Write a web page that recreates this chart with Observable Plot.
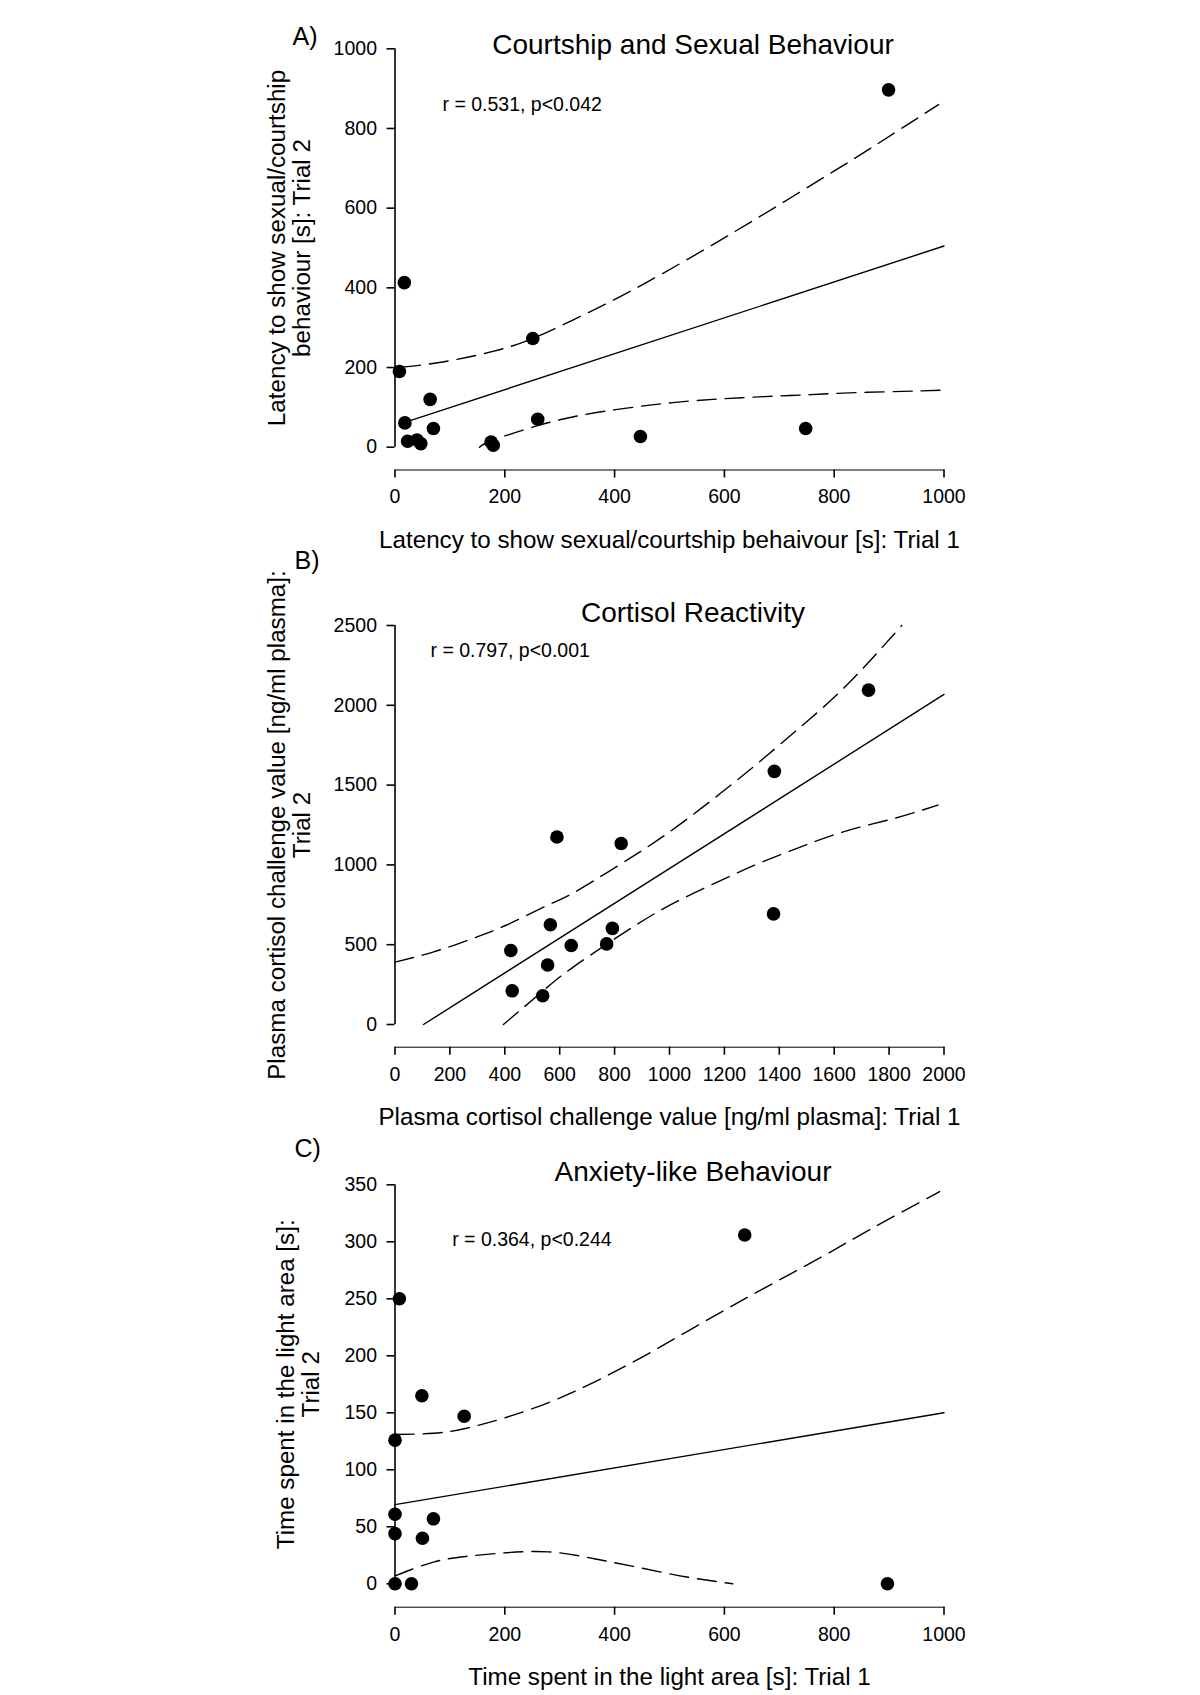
<!DOCTYPE html>
<html><head><meta charset="utf-8">
<script src="https://cdn.jsdelivr.net/npm/d3@7"></script>
<script src="https://cdn.jsdelivr.net/npm/@observablehq/plot@0.6"></script>
<style>
html,body{margin:0;padding:0;background:#fff;}
#wrap{position:relative;width:1200px;height:1695px;background:#fff;overflow:hidden;}
#wrap svg{position:absolute;left:0;overflow:visible;background:transparent;}
#wrap svg g[aria-label*="axis"]{stroke-width:1.6px;}
#wrap svg g[aria-label*="axis"] text{font-size:19.5px;}
</style></head><body><div id="wrap"></div>
<script>
// ---------- Panel A data ----------
const aLabel = "A)";
const aTitle = "Courtship and Sexual Behaviour";
const aStat = "r = 0.531, p<0.042";
const aXTitle = "Latency to show sexual/courtship behaivour [s]: Trial 1";
const aYTitle = ["Latency to show sexual/courtship", "behaviour [s]: Trial 2"];
const aXTicks = [0, 200, 400, 600, 800, 1000];
const aYTicks = [0, 200, 400, 600, 800, 1000];
const aTrial1 = [899, 17, 251, 8, 64, 18, 70, 23, 40, 47, 175, 179, 260, 447, 748];
const aTrial2 = [897, 413, 273, 190, 120, 61, 47, 15, 18, 9, 13, 5, 70, 27, 47];
const aFitX = [8, 1000];
const aFitY = [58, 505];
const aUpperX = [12, 87, 180, 251, 322, 389, 456, 531, 615, 698, 782, 866, 990];
const aUpperY = [201, 214, 241, 273, 318, 363, 412, 470, 538, 607, 678, 750, 860];
const aLowerX = [154, 179, 260, 338, 422, 506, 590, 673, 757, 841, 925, 996];
const aLowerY = [0, 18, 54, 80, 98, 112, 121, 127, 132, 137, 140, 143];

// ---------- Panel B data ----------
const bLabel = "B)";
const bTitle = "Cortisol Reactivity";
const bStat = "r = 0.797, p<0.001";
const bXTitle = "Plasma cortisol challenge value [ng/ml plasma]: Trial 1";
const bYTitle = ["Plasma cortisol challenge value [ng/ml plasma]:", "Trial 2"];
const bXTicks = [0, 200, 400, 600, 800, 1000, 1200, 1400, 1600, 1800, 2000];
const bYTicks = [0, 500, 1000, 1500, 2000, 2500];
const bTrial1 = [1725, 1382, 590, 824, 1379, 566, 792, 422, 642, 771, 556, 427, 538];
const bTrial2 = [2095, 1586, 1175, 1134, 693, 625, 602, 464, 495, 505, 373, 211, 180];
const bFitX = [104, 2000];
const bFitY = [0, 2068];
const bUpperX = [0, 141, 275, 409, 559, 643, 811, 978, 1146, 1313, 1481, 1648, 1846];
const bUpperY = [391, 455, 534, 625, 750, 818, 993, 1180, 1395, 1625, 1870, 2130, 2500];
const bLowerX = [395, 543, 643, 811, 978, 1146, 1313, 1481, 1648, 1816, 1978];
const bLowerY = [0, 216, 352, 549, 726, 870, 1000, 1115, 1215, 1290, 1375];

// ---------- Panel C data ----------
const cLabel = "C)";
const cTitle = "Anxiety-like Behaviour";
const cStat = "r = 0.364, p<0.244";
const cXTitle = "Time spent in the light area [s]: Trial 1";
const cYTitle = ["Time spent in the light area [s]:", "Trial 2"];
const cXTicks = [0, 200, 400, 600, 800, 1000];
const cYTicks = [0, 50, 100, 150, 200, 250, 300, 350];
const cTrial1 = [637, 8, 49, 126, 0, 0, 70, 0, 50, 0, 30, 897];
const cTrial2 = [306, 250, 165, 147, 126, 61, 57, 44, 40, 0, 0, 0];
const cFitX = [0, 1000];
const cFitY = [69.5, 150];
const cUpperX = [0, 70, 126, 196, 280, 363, 447, 531, 615, 698, 782, 866, 992];
const cUpperY = [131, 132, 136, 145, 159, 177, 198, 221, 244, 266, 288, 311, 344];
const cLowerX = [0, 70, 129, 196, 280, 363, 447, 531, 615];
const cLowerY = [7, 19, 24, 27, 28, 22, 14, 6, 0];

const FONT = "'Liberation Sans', Arial, Helvetica, sans-serif";
const ML = 394.5, MR = 256.5;

function zip(xs, ys) { return xs.map((x, i) => ({x, y: ys[i]})); }

function panel(o) {
  const pts = zip(o.t1, o.t2);
  const fit = zip(o.fitX, o.fitY);
  const up = zip(o.upX, o.upY);
  const lo = zip(o.loX, o.loY);
  const t = (s, X, Y, opts) => Plot.text([s], Object.assign({
    text: d => d, frameAnchor: "top-left", lineAnchor: "middle",
    dx: X - ML, dy: Y - o.mTop, fill: "#000"
  }, opts));
  const dash = {stroke: "#000", strokeWidth: 1.4, strokeDasharray: "19,9", curve: "natural"};
  return Plot.plot({
    width: 1200, height: o.height,
    marginLeft: ML, marginRight: MR, marginTop: o.mTop, marginBottom: o.mBottom,
    style: {fontFamily: FONT, fontSize: "19.5px", color: "#000", background: "transparent", overflow: "visible"},
    x: {domain: o.xDomain, ticks: o.xTicks, tickFormat: d => String(d), tickSize: 8, tickPadding: 11.5, label: null, line: true},
    y: {domain: o.yDomain, range: o.yRange, ticks: o.yTicks, tickFormat: d => String(d), tickSize: 8, tickPadding: 10, label: null},
    marks: [
      Plot.ruleX([o.xDomain[0]], {y1: o.yDomain[0], y2: o.yDomain[1], stroke: "#000", strokeWidth: 1.6}),
      Plot.line(fit, {x: "x", y: "y", stroke: "#000", strokeWidth: 1.4}),
      Plot.line(up, Object.assign({x: "x", y: "y"}, dash)),
      Plot.line(lo, Object.assign({x: "x", y: "y"}, dash)),
      Plot.dot(pts, {x: "x", y: "y", r: 6.8, fill: "#000", stroke: "none"}),
      t(o.label, o.labelPos[0], o.labelPos[1], {fontSize: 25, textAnchor: "start"}),
      t(o.title, 692.5, o.titleY, {fontSize: 28, textAnchor: "middle"}),
      t(o.stat, o.statPos[0], o.statPos[1], {fontSize: 19.5, textAnchor: "start"}),
      t(o.xTitle, 669, o.xTitleY, {fontSize: 24.2, textAnchor: "middle"}),
      t(o.yTitle[0], o.yTitleX[0], o.yTitleY, {fontSize: 24.2, textAnchor: "middle", rotate: -90}),
      t(o.yTitle[1], o.yTitleX[1], o.yTitleY, {fontSize: 24.2, textAnchor: "middle", rotate: -90})
    ]
  });
}

const wrap = document.getElementById("wrap");
function place(svg, top) { svg.style.top = top + "px"; wrap.appendChild(svg); }

place(panel({
  height: 560, mTop: 48.3, mBottom: 560 - 469.5,
  xDomain: [0, 1000], yDomain: [0, 1000], yRange: [446.7, 48.3],
  xTicks: aXTicks, yTicks: aYTicks, t1: aTrial1, t2: aTrial2,
  fitX: aFitX, fitY: aFitY, upX: aUpperX, upY: aUpperY, loX: aLowerX, loY: aLowerY,
  label: aLabel, labelPos: [292, 36], title: aTitle, titleY: 45,
  stat: aStat, statPos: [442, 104.5], xTitle: aXTitle, xTitleY: 539.5,
  yTitle: aYTitle, yTitleX: [277.2, 302.2], yTitleY: 247.5
}), 0);

place(panel({
  height: 590, mTop: 85, mBottom: 590 - 506.7,
  xDomain: [0, 2000], yDomain: [0, 2500], yRange: [484, 85],
  xTicks: bXTicks, yTicks: bYTicks, t1: bTrial1, t2: bTrial2,
  fitX: bFitX, fitY: bFitY, upX: bUpperX, upY: bUpperY, loX: bLowerX, loY: bLowerY,
  label: bLabel, labelPos: [294, 20], title: bTitle, titleY: 73,
  stat: bStat, statPos: [430, 110], xTitle: bXTitle, xTitleY: 576.7,
  yTitle: bYTitle, yTitleX: [277.2, 302.2], yTitleY: 284.5
}), 540);

place(panel({
  height: 565, mTop: 54.3, mBottom: 565 - 476.7,
  xDomain: [0, 1000], yDomain: [0, 350], yRange: [453.3, 54.3],
  xTicks: cXTicks, yTicks: cYTicks, t1: cTrial1, t2: cTrial2,
  fitX: cFitX, fitY: cFitY, upX: cUpperX, upY: cUpperY, loX: cLowerX, loY: cLowerY,
  label: cLabel, labelPos: [294, 18], title: cTitle, titleY: 42,
  stat: cStat, statPos: [451.7, 109], xTitle: cXTitle, xTitleY: 546.7,
  yTitle: cYTitle, yTitleX: [286.2, 311.2], yTitleY: 253.8
}), 1130);
</script></body></html>
